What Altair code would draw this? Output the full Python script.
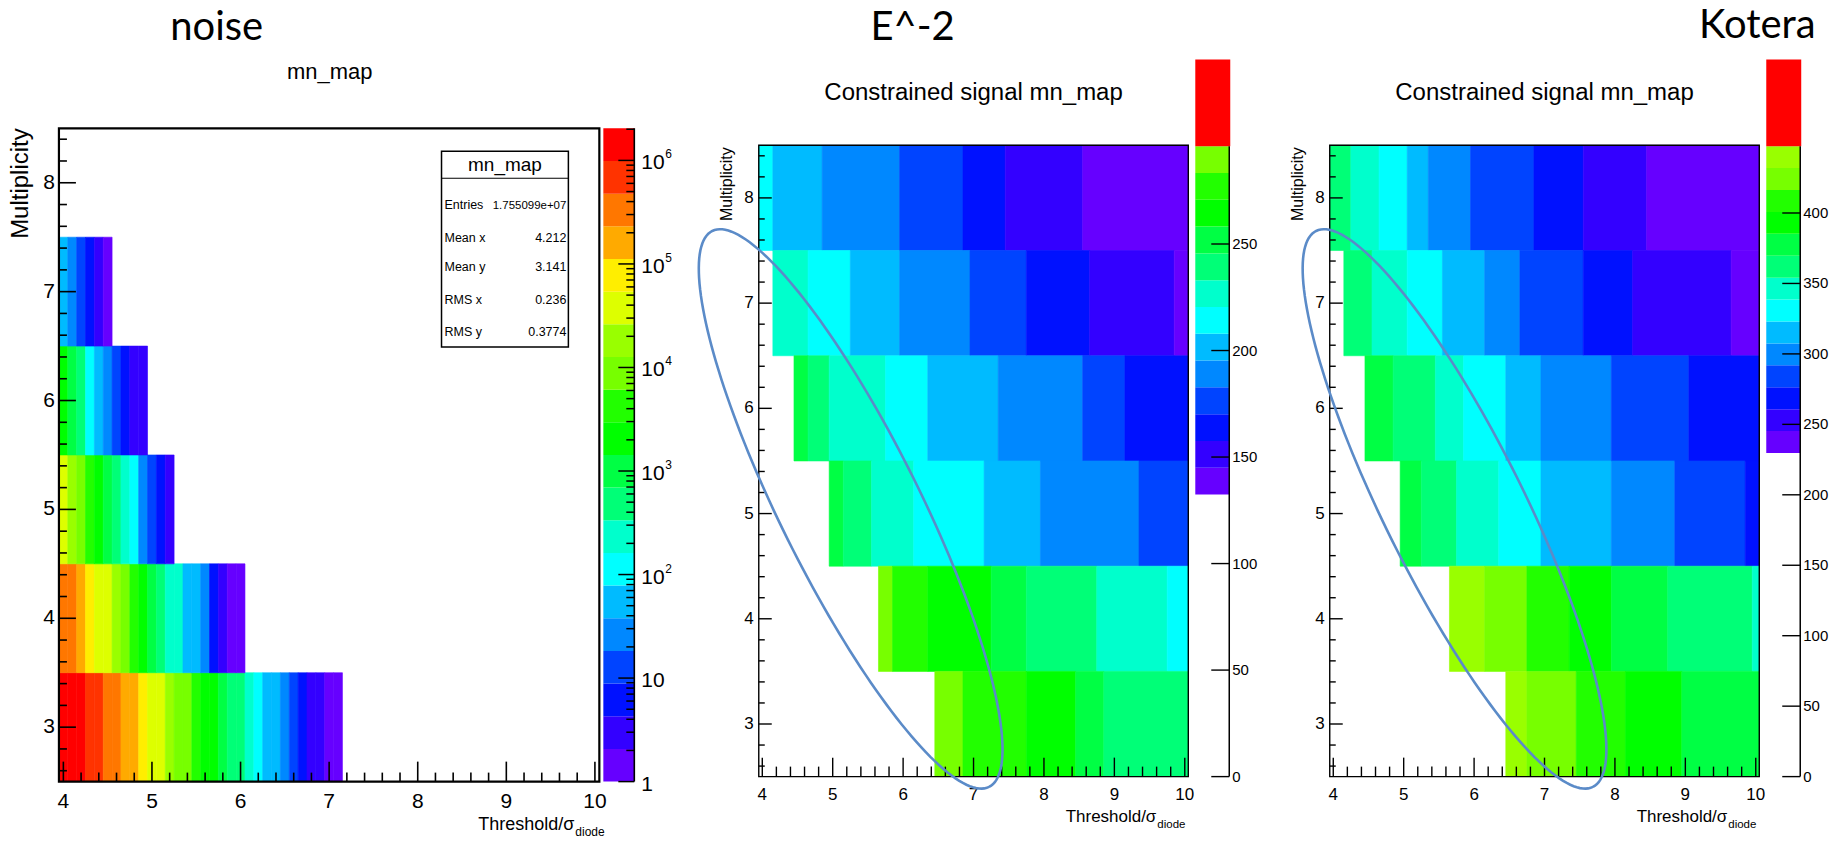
import math
import numpy as np
import pandas as pd
import altair as alt

# ---------------- ROOT rainbow palette, bottom -> top ----------------
PALETTE = ['#6600ff', '#3300ff', '#0011ff', '#0044ff', '#0088ff', '#00bbff',
           '#00ffff', '#00ffcc', '#00ff77', '#00ff44', '#00ff00', '#22ff00',
           '#77ff00', '#99ff00', '#ddff00', '#ffee00', '#ffaa00', '#ff7700',
           '#ff3300', '#ff0000']

# ---------------- noise map: counts per 0.1 wide threshold bin ----------------
NOISE_FIRST_CENTER = 4.0
NOISE_BIN_WIDTH = 0.1
NOISE_MULT = [3, 4, 5, 6, 7]
NOISE_COUNTS_M3 = [1.9e6, 1.6e6, 1.1e6, 8.5e5, 5.6e5, 4.2e5, 2.6e5, 2.0e5, 1.3e5, 9.0e4,
                   5.0e4, 3.0e4, 2.0e4, 1.2e4, 7.0e3, 4.5e3, 2.8e3, 1.6e3, 1.0e3, 6.0e2,
                   3.6e2, 2.2e2, 1.2e2, 70, 42, 25, 13, 6, 3.5, 2.2, 1.8, 1.0]
NOISE_COUNTS_M4 = [4.5e5, 3.0e5, 1.6e5, 8.0e4, 4.5e4, 3.0e4, 1.8e4, 9.0e3, 4.5e3, 2.2e3,
                   1.0e3, 5.0e2, 2.8e2, 1.8e2, 70, 45, 25, 6, 3, 1.8, 1.2]
NOISE_COUNTS_M5 = [3.5e4, 1.8e4, 9.0e3, 4.5e3, 2.0e3, 1.0e3, 5.0e2, 2.5e2, 1.2e2, 30, 13, 6, 3]
NOISE_COUNTS_M6 = [2.0e3, 1.0e3, 5.0e2, 1.2e2, 60, 28, 13, 6, 3, 2.5]
NOISE_COUNTS_M7 = [55, 27, 13, 6, 3, 1.5]
NOISE_LOGZ_MAX = 6.31
NOISE_STATS_LABELS = ['Entries', 'Mean x', 'Mean y', 'RMS x', 'RMS y']
NOISE_STATS_VALUES = ['1.755099e+07', '4.212', '3.141', '0.236', '0.3774']
NOISE_CBAR_MAJOR = [1, 10, 100, 1e3, 1e4, 1e5, 1e6]
NOISE_CBAR_BASE = ['1', '10', '10', '10', '10', '10', '10']
NOISE_CBAR_EXP = ['', '', '2', '3', '4', '5', '6']

# ---------------- constrained signal maps: merged bins and values ----------------
SIGNAL_MULT = [8, 7, 6, 5, 4, 3]

E2_EDGES = [
    [3.95, 4.15, 4.85, 5.95, 6.85, 7.45, 8.55, 10.05],
    [4.15, 4.65, 5.25, 5.95, 6.95, 7.75, 8.65, 9.85, 10.05],
    [4.45, 4.65, 4.95, 5.75, 6.35, 7.35, 8.55, 9.15, 10.05],
    [4.95, 5.15, 5.55, 6.15, 7.15, 7.95, 9.35, 10.05],
    [5.65, 5.85, 6.35, 7.25, 7.75, 8.75, 9.75, 10.05],
    [6.45, 6.85, 7.75, 8.45, 8.85, 10.05],
]
E2_VALUES = [
    [212, 200, 188, 175, 163, 150, 139],
    [226, 213, 201, 189, 176, 163, 151, 141],
    [250, 239, 227, 214, 202, 189, 176, 164],
    [251, 239, 226, 214, 201, 189, 177],
    [289, 277, 265, 252, 240, 227, 215],
    [288, 276, 264, 252, 240],
]
E2_Z_RANGE = [132.4, 295.9]
E2_N_COLORS = 13
E2_AXIS_MAX = 304.3
E2_OVERFLOW_TOP = 336.6
E2_CBAR_TICKS = [0, 50, 100, 150, 200, 250]

KOT_EDGES = [
    [3.95, 4.25, 4.65, 5.05, 5.35, 5.95, 6.85, 7.55, 8.45, 10.05],
    [4.15, 4.55, 5.05, 5.55, 6.15, 6.65, 7.55, 8.25, 9.65, 10.05],
    [4.45, 4.85, 5.45, 5.85, 6.45, 6.95, 7.95, 9.05, 10.05],
    [4.95, 5.25, 5.75, 6.35, 6.95, 7.95, 8.85, 9.85, 10.05],
    [5.65, 6.15, 6.75, 7.35, 7.95, 8.75, 9.95, 10.05],
    [6.45, 6.75, 7.45, 8.15, 8.95, 10.05],
]
KOT_VALUES = [
    [362, 346, 331, 315, 300, 284, 269, 253, 238],
    [361, 346, 330, 315, 299, 284, 268, 253, 237],
    [377, 362, 346, 331, 315, 300, 284, 269],
    [377, 361, 346, 330, 315, 299, 284, 268],
    [440, 424, 408, 393, 377, 362, 346],
    [439, 424, 409, 393, 378],
]
KOT_Z_RANGE = [229.7, 447.4]
KOT_N_COLORS = 14
KOT_AXIS_MAX = 460.1
KOT_OVERFLOW_TOP = 509.0
KOT_CBAR_TICKS = [0, 50, 100, 150, 200, 250, 300, 350, 400]

# ellipse annotations (centre and the two semi-axis vectors, data units)
E2_ELLIPSE = dict(cx=5.255, cy=5.044, ax=1.965, ay=-2.642, bx=0.889, by=0.296)
KOT_ELLIPSE = dict(cx=5.722, cy=5.044, ax=1.965, ay=-2.642, bx=0.889, by=0.296)

X_MAJOR = [4, 5, 6, 7, 8, 9, 10]
Y_MAJOR = [3, 4, 5, 6, 7, 8]
X_MINOR = [round(4 + 0.2 * i, 1) for i in range(31) if i % 5]
Y_MINOR = [round(2.6 + 0.2 * i, 1) for i in range(30) if (i + 3) % 5]

HELV = "Liberation Sans, Arial, sans-serif"
SLIDE = "Lato, Open Sans, sans-serif"

# ---------------- layout constants (pixels) ----------------
NOISE_W, NOISE_H = 558.4, 654
NOISE_FRAME_W = 541
SIG_W, SIG_H = 430, 649
SPACING = 141.6


def one_row():
    return pd.DataFrame({'a': [0]})


def text_mark(text, x, y, size, font=HELV, align='center', baseline='alphabetic', angle=None):
    props = dict(align=align, baseline=baseline, fontSize=size, font=font, color='black')
    if angle is not None:
        props['angle'] = angle
    return alt.Chart(pd.DataFrame({'t': [text]})).mark_text(**props).encode(
        text='t:N', x=alt.value(x), y=alt.value(y))


def tick_layers(xsc, ysc, bottom, xmaj, xmin, ymaj, ymin, sw):
    out = []
    for vals, ln in ((X_MAJOR, xmaj), (X_MINOR, xmin)):
        out.append(alt.Chart(pd.DataFrame({'v': vals})).mark_rule(color='black', strokeWidth=sw).encode(
            x=alt.X('v:Q', scale=xsc, axis=None), y=alt.value(bottom), y2=alt.value(bottom - ln)))
    for vals, ln in ((Y_MAJOR, ymaj), (Y_MINOR, ymin)):
        out.append(alt.Chart(pd.DataFrame({'v': vals})).mark_rule(color='black', strokeWidth=sw).encode(
            y=alt.Y('v:Q', scale=ysc, axis=None), x=alt.value(0), x2=alt.value(ln)))
    return out


def label_layers(xsc, ysc, xlab_y, ylab_x, size):
    xdf = pd.DataFrame({'v': X_MAJOR, 't': [str(v) for v in X_MAJOR]})
    ydf = pd.DataFrame({'v': Y_MAJOR, 't': [str(v) for v in Y_MAJOR]})
    return [
        alt.Chart(xdf).mark_text(align='center', baseline='top', fontSize=size, font=HELV,
                                 color='black').encode(
            x=alt.X('v:Q', scale=xsc, axis=None), y=alt.value(xlab_y), text='t:N'),
        alt.Chart(ydf).mark_text(align='right', baseline='middle', fontSize=size, font=HELV,
                                 color='black').encode(
            y=alt.Y('v:Q', scale=ysc, axis=None), x=alt.value(ylab_x), text='t:N'),
    ]


def frame_layer(xsc, ysc, sw):
    df = pd.DataFrame({'x0': [3.95], 'x1': [10.05], 'y0': [2.5], 'y1': [8.5]})
    return alt.Chart(df).mark_rect(fillOpacity=0, stroke='black', strokeWidth=sw).encode(
        x=alt.X('x0:Q', scale=xsc, axis=None), x2='x1:Q',
        y=alt.Y('y0:Q', scale=ysc, axis=None), y2='y1:Q')


def heat_layer(df, xsc, ysc, field, csc):
    return alt.Chart(df).mark_rect(strokeWidth=0.6).encode(
        x=alt.X('x0:Q', scale=xsc, axis=None), x2='x1:Q',
        y=alt.Y('y0:Q', scale=ysc, axis=None), y2='y1:Q',
        color=alt.Color(f'{field}:Q', scale=csc, legend=None),
        stroke=alt.Stroke(f'{field}:Q', scale=csc, legend=None))


def ellipse_layer(p, xsc, ysc):
    t = np.linspace(0, 2 * math.pi, 181)
    df = pd.DataFrame({'k': np.arange(len(t)),
                       'ex': p['cx'] + np.cos(t) * p['ax'] + np.sin(t) * p['bx'],
                       'ey': p['cy'] + np.cos(t) * p['ay'] + np.sin(t) * p['by']})
    return alt.Chart(df).mark_line(color='#5b8bc8', strokeWidth=2.6, clip=False).encode(
        x=alt.X('ex:Q', scale=xsc, axis=None), y=alt.Y('ey:Q', scale=ysc, axis=None), order='k:Q')


# ======================= noise panel =======================
recs = []
for m, counts in zip(NOISE_MULT, [NOISE_COUNTS_M3, NOISE_COUNTS_M4, NOISE_COUNTS_M5,
                                  NOISE_COUNTS_M6, NOISE_COUNTS_M7]):
    for i, c in enumerate(counts):
        lo = NOISE_FIRST_CENTER - NOISE_BIN_WIDTH / 2 + i * NOISE_BIN_WIDTH
        recs.append(dict(x0=lo, x1=lo + NOISE_BIN_WIDTH, y0=m - 0.5, y1=m + 0.5, count=c))
noise_df = pd.DataFrame(recs)

px_per_unit = NOISE_FRAME_W / 6.1
noise_x = alt.Scale(domain=[3.95, 3.95 + NOISE_W / px_per_unit], nice=False, zero=False)
noise_y = alt.Scale(domain=[2.5, 8.5], nice=False, zero=False)
noise_c = alt.Scale(type='quantize', domain=[0, NOISE_LOGZ_MAX], range=PALETTE, nice=False, zero=False)

noise_heat = heat_layer(noise_df, noise_x, noise_y, 'lv', noise_c).transform_calculate(
    lv='log(datum.count) / LN10')

stats_layers = [
    alt.Chart(one_row()).mark_rect(fill='white', stroke='black', strokeWidth=1.5).encode(
        x=alt.value(383), x2=alt.value(510), y=alt.value(23), y2=alt.value(219)),
    alt.Chart(one_row()).mark_rule(color='black', strokeWidth=1.2).encode(
        x=alt.value(383), x2=alt.value(510), y=alt.value(50)),
    text_mark('mn_map', 446.5, 43, 19),
]
for k, (lab, val) in enumerate(zip(NOISE_STATS_LABELS, NOISE_STATS_VALUES)):
    yb = [81, 114, 143, 176, 208][k]
    stats_layers.append(text_mark(lab, 386, yb, 12.5, align='left'))
    stats_layers.append(text_mark(val, 508, yb, 11.5 if k == 0 else 12.5, align='right'))

noise_texts = [
    text_mark('noise', 158, -88, 40, SLIDE),
    text_mark('mn_map', 271, -49, 22),
    text_mark('Multiplicity', -38, 0, 24, align='right', baseline='middle', angle=270),
    text_mark('Threshold/σ', 516, 702, 18, align='right'),
    text_mark('diode', 517, 708, 12, align='left'),
    alt.Chart(one_row()).mark_rect(fill='white').encode(
        x=alt.value(-59), x2=alt.value(-58), y=alt.value(-128), y2=alt.value(-127)),
]

noise_main = alt.layer(
    noise_heat, frame_layer(noise_x, noise_y, 2.2),
    *tick_layers(noise_x, noise_y, NOISE_H, 20, 9, 17, 8, 1.6),
    *label_layers(noise_x, noise_y, NOISE_H + 9, -4, 21),
    *stats_layers, *noise_texts)

step = NOISE_LOGZ_MAX / len(PALETTE)
noise_bands = pd.DataFrame({'lo': [10 ** (k * step) for k in range(len(PALETTE))],
                            'hi': [10 ** ((k + 1) * step) for k in range(len(PALETTE))],
                            'lv': [(k + 0.5) * step for k in range(len(PALETTE))]})
noise_cb_scale = alt.Scale(type='log', domain=[1, 10 ** NOISE_LOGZ_MAX], nice=False)
CB_X0, CB_X1 = 545, 576
noise_cb = alt.Chart(noise_bands).mark_rect().encode(
    x=alt.value(CB_X0), x2=alt.value(CB_X1),
    y=alt.Y('lo:Q', scale=noise_cb_scale, axis=None), y2='hi:Q',
    color=alt.Color('lv:Q', scale=noise_c, legend=None))
noise_cb_line = alt.Chart(pd.DataFrame({'lo': [1], 'hi': [10 ** NOISE_LOGZ_MAX]})).mark_rule(
    color='black', strokeWidth=1.6).encode(
    x=alt.value(CB_X1), y=alt.Y('lo:Q', scale=noise_cb_scale, axis=None), y2='hi:Q')
minor_vals = [m * 10 ** k for k in range(7) for m in range(2, 10) if m * 10 ** k < 10 ** NOISE_LOGZ_MAX]
noise_cb_ticks = [
    alt.Chart(pd.DataFrame({'v': vals})).mark_rule(color='black', strokeWidth=1.5).encode(
        y=alt.Y('v:Q', scale=noise_cb_scale, axis=None),
        x=alt.value(CB_X1 - ln), x2=alt.value(CB_X1))
    for vals, ln in ((NOISE_CBAR_MAJOR, 16), (minor_vals, 8))]
base_df = pd.DataFrame({'v': NOISE_CBAR_MAJOR, 't': NOISE_CBAR_BASE})
exp_df = pd.DataFrame({'v': NOISE_CBAR_MAJOR, 't': NOISE_CBAR_EXP})
exp_df = exp_df[exp_df['t'] != '']
noise_cb_labels = [
    alt.Chart(base_df).mark_text(align='left', baseline='middle', fontSize=21, font=HELV,
                                 color='black', dy=3).encode(
        y=alt.Y('v:Q', scale=noise_cb_scale, axis=None), x=alt.value(583), text='t:N'),
    alt.Chart(exp_df).mark_text(align='left', baseline='middle', fontSize=12, font=HELV,
                                color='black', dy=-6).encode(
        y=alt.Y('v:Q', scale=noise_cb_scale, axis=None), x=alt.value(607), text='t:N'),
]

noise_panel = alt.layer(
    noise_main, alt.layer(noise_cb, noise_cb_line, *noise_cb_ticks, *noise_cb_labels)
).resolve_scale(y='independent').properties(width=NOISE_W, height=NOISE_H)

# ======================= signal panels =======================
sig_x = alt.Scale(domain=[3.95, 10.05], nice=False, zero=False)
sig_y = alt.Scale(domain=[2.5, 2.5 + SIG_H / (632 / 6)], nice=False, zero=False)
SCB_X0, SCB_X1 = 437, 471


def signal_panel(title, title_x, title_y, edges_rows, values_rows, zrange, ncol, axis_max,
                 overflow_top, cbar_ticks, ellipse):
    pal = PALETTE[:ncol]
    recs = []
    for m, edges, vals in zip(SIGNAL_MULT, edges_rows, values_rows):
        for j, z in enumerate(vals):
            recs.append(dict(x0=edges[j], x1=edges[j + 1], y0=m - 0.5, y1=m + 0.5, z=z))
    df = pd.DataFrame(recs)
    csc = alt.Scale(type='quantize', domain=zrange, range=pal, nice=False, zero=False)
    heat = heat_layer(df, sig_x, sig_y, 'z', csc)
    texts = [
        text_mark(title, title_x, title_y, 40, SLIDE),
        text_mark('Constrained signal mn_map', 215, -28, 24),
        text_mark('Multiplicity', -32, 19, 16, align='right', baseline='middle', angle=270),
        text_mark('Threshold/σ', 398, 694, 17, align='right'),
        text_mark('diode', 399, 700, 11.5, align='left'),
    ]
    main = alt.layer(heat, frame_layer(sig_x, sig_y, 1.4),
                     *tick_layers(sig_x, sig_y, SIG_H, 19, 10, 13, 6, 1.4),
                     *label_layers(sig_x, sig_y, SIG_H + 10, -5, 17),
                     ellipse_layer(ellipse, sig_x, sig_y), *texts)

    w = (zrange[1] - zrange[0]) / ncol
    bands = pd.DataFrame({'lo': [zrange[0] + k * w for k in range(ncol)],
                          'hi': [zrange[0] + (k + 1) * w for k in range(ncol)],
                          'z': [zrange[0] + (k + 0.5) * w for k in range(ncol)]})
    cbs = alt.Scale(domain=[0, axis_max], nice=False, zero=False)
    cb = alt.Chart(bands).mark_rect().encode(
        x=alt.value(SCB_X0), x2=alt.value(SCB_X1),
        y=alt.Y('lo:Q', scale=cbs, axis=None), y2='hi:Q',
        color=alt.Color('z:Q', scale=csc, legend=None))
    over = alt.Chart(pd.DataFrame({'lo': [zrange[1]], 'hi': [overflow_top]})).mark_rect(
        color='#ff0000').encode(x=alt.value(SCB_X0), x2=alt.value(SCB_X1 + 1),
                                y=alt.Y('lo:Q', scale=cbs, axis=None), y2='hi:Q')
    line = alt.Chart(pd.DataFrame({'lo': [0], 'hi': [zrange[1]]})).mark_rule(
        color='black', strokeWidth=1.5).encode(x=alt.value(SCB_X1),
                                              y=alt.Y('lo:Q', scale=cbs, axis=None), y2='hi:Q')
    ticks = alt.Chart(pd.DataFrame({'v': cbar_ticks})).mark_rule(color='black', strokeWidth=1.4).encode(
        y=alt.Y('v:Q', scale=cbs, axis=None), x=alt.value(SCB_X1 - 18), x2=alt.value(SCB_X1))
    labels = alt.Chart(pd.DataFrame({'v': cbar_ticks, 't': [str(v) for v in cbar_ticks]})).mark_text(
        align='left', baseline='middle', fontSize=15, font=HELV, color='black').encode(
        y=alt.Y('v:Q', scale=cbs, axis=None), x=alt.value(SCB_X1 + 3), text='t:N')
    return alt.layer(main, alt.layer(cb, over, line, ticks, labels)).resolve_scale(
        y='independent').properties(width=SIG_W, height=SIG_H)


e2_panel = signal_panel('E^-2', 154, -88, E2_EDGES, E2_VALUES, E2_Z_RANGE, E2_N_COLORS,
                        E2_AXIS_MAX, E2_OVERFLOW_TOP, E2_CBAR_TICKS, E2_ELLIPSE)
kot_panel = signal_panel('Kotera', 428, -90, KOT_EDGES, KOT_VALUES, KOT_Z_RANGE, KOT_N_COLORS,
                         KOT_AXIS_MAX, KOT_OVERFLOW_TOP, KOT_CBAR_TICKS, KOT_ELLIPSE)

chart = alt.hconcat(noise_panel, e2_panel, kot_panel, spacing=SPACING, bounds='flush').resolve_scale(
    color='independent', stroke='independent').properties(padding=0).configure_view(strokeWidth=0)

chart.save("out.html", embed_options={"renderer": "svg", "actions": False})
